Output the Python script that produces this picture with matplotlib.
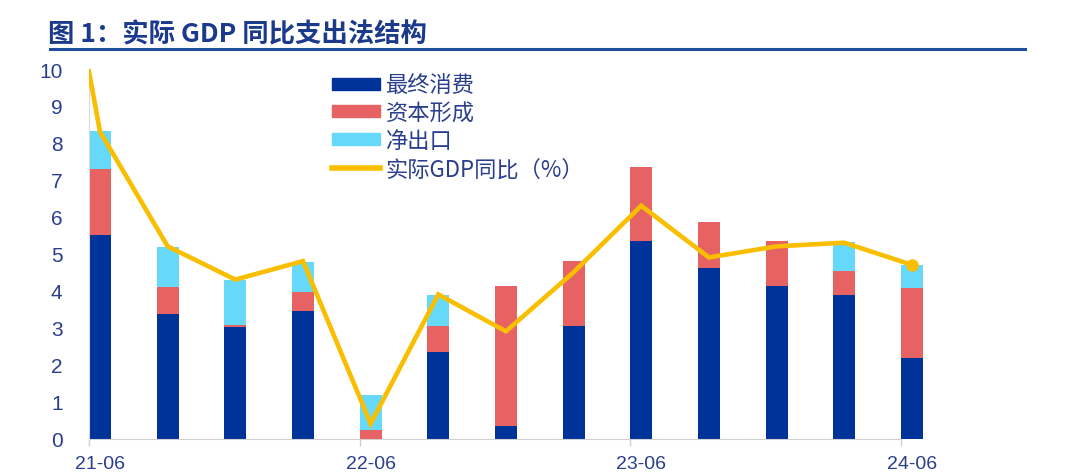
import matplotlib
matplotlib.use("Agg")
import matplotlib.pyplot as plt
from matplotlib.patches import Patch
from matplotlib.lines import Line2D
import numpy as np

plt.rcParams['font.family'] = ['Noto Sans CJK SC', 'DejaVu Sans']

# ---- data ----
quarters = ['21-06', '21-09', '21-12', '22-03', '22-06', '22-09', '22-12',
            '23-03', '23-06', '23-09', '23-12', '24-03', '24-06']
consumption = [5.51, 3.37, 3.03, 3.44, -0.78, 2.35, 0.35, 3.04, 5.35, 4.61, 4.14, 3.88, 2.18]
capital     = [1.79, 0.73, 0.05, 0.53, 0.23, 0.70, 3.79, 1.77, 1.99, 1.25, 1.21, 0.64, 1.88]
net_exports = [1.02, 1.09, 1.22, 0.82, 0.95, 0.83, -1.24, -0.31, -1.04, -0.96, -0.15, 0.79, 0.64]
# real GDP YoY, with the preceding quarter (21-03) that runs off the top of the chart
gdp_quarters = ['21-03'] + quarters
gdp_yoy = [18.3, 8.3, 5.2, 4.3, 4.8, 0.4, 3.9, 2.9, 4.5, 6.3, 4.9, 5.2, 5.3, 4.7]
tick_labels = ['21-06', '22-06', '23-06', '24-06']

series_names = ['最终消费', '资本形成', '净出口', '实际GDP同比（%）']
c_blue = '#003399'
c_red = '#E66263'
c_cyan = '#66D8FA'
c_gold = '#F9BE00'
txt = '#2A3E8E'

fig = plt.figure(figsize=(10.72, 4.77), dpi=100)
W, H = 1072, 477
x0_px, x_step = 89.0, 67.65
xmin, xmax = -0.163, 12.2
left = x0_px / W
right_px = x0_px + (xmax - xmin) * x_step
ax = fig.add_axes([left, 37.5 / H, (right_px - x0_px) / W, 369.5 / H])

x = np.arange(len(quarters))
bw = 0.326
pos_bottom = np.zeros(len(x))
neg_bottom = np.zeros(len(x))
for vals, col in [(consumption, c_blue), (capital, c_red), (net_exports, c_cyan)]:
    v = np.array(vals)
    b = np.where(v >= 0, pos_bottom, neg_bottom)
    ax.bar(x, v, bw, bottom=b, color=col, linewidth=0, zorder=2)
    pos_bottom = pos_bottom + np.where(v >= 0, v, 0)
    neg_bottom = neg_bottom + np.where(v < 0, v, 0)

gx = np.arange(-1, len(quarters))
ax.plot(gx, gdp_yoy, color=c_gold, lw=3.3, zorder=3, solid_joinstyle='miter')
ax.plot(gx[-1:], gdp_yoy[-1:], 'o', color=c_gold, ms=8, zorder=4)

ax.set_xlim(xmin, xmax)
ax.set_ylim(0, 10)
ax.set_yticks(range(0, 11))
ax.tick_params(axis='y', length=0, pad=19, labelsize=15, labelcolor=txt)
for t in ax.get_yticklabels():
    t.set_fontfamily(['Liberation Sans', 'DejaVu Sans'])

major = [quarters.index(t) for t in tick_labels]
ax.set_xticks(major)
ax.set_xticklabels(tick_labels)
ax.set_xticks([m + xmin for m in major], minor=True)
ax.tick_params(axis='x', which='major', length=0, pad=12, labelsize=14, labelcolor=txt)
ax.tick_params(axis='x', which='minor', length=5, width=1, color='#D0D0D0')
for t in ax.get_xticklabels():
    t.set_fontfamily(['Liberation Sans Narrow', 'Liberation Sans', 'DejaVu Sans'])

for s in ['top', 'right']:
    ax.spines[s].set_visible(False)
ax.spines['left'].set_color('#D9D9D9')
ax.spines['bottom'].set_color('#D0D0D0')
ax.spines['bottom'].set_bounds(xmin, 12 + xmin)
ax.spines['bottom'].set_zorder(5)

handles = [Patch(color=c_blue), Patch(color=c_red), Patch(color=c_cyan),
           Line2D([], [], color=c_gold, lw=4)]
leg = fig.legend(handles, series_names, loc='upper left',
                 bbox_to_anchor=(328 / W, 1 - 70 / H), frameon=False,
                 fontsize=16, handlelength=2.15, handleheight=0.45,
                 handletextpad=0.25, labelspacing=0.22, borderaxespad=0, borderpad=0.2)
for t in leg.get_texts():
    t.set_color(txt)

fig.text(48 / W, 1 - 35 / H, '图 1：实际 GDP 同比支出法结构', fontsize=19,
         fontweight='bold', color='#1B3A8C', va='center', ha='left')
fig.add_artist(Line2D([50 / W, 1025 / W], [1 - 50 / H, 1 - 50 / H],
                      color='#1F4E9E', lw=2.2, transform=fig.transFigure))

fig.savefig('out.png', dpi=100)
